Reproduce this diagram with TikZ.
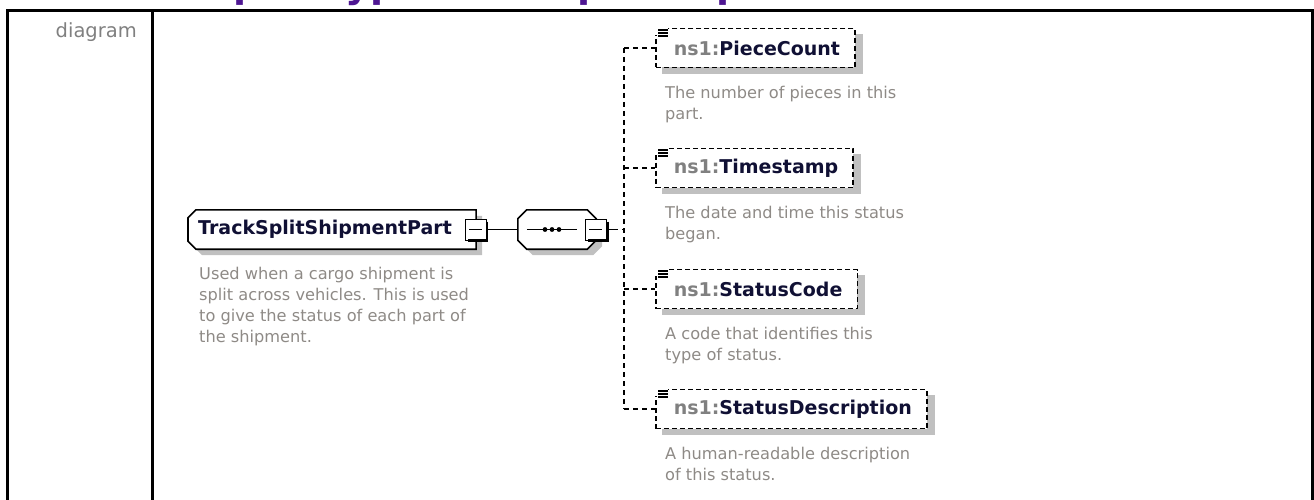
\documentclass[tikz,border=0pt]{standalone}
\usepackage{fontspec}
\setmainfont{DejaVu Sans}
\usetikzlibrary{calc,backgrounds}
\definecolor{headpurple}{RGB}{78,22,146}
\definecolor{namenavy}{RGB}{16,16,52}
\definecolor{nsgray}{RGB}{128,128,128}
\definecolor{docgray}{RGB}{142,138,134}
\definecolor{shadegray}{RGB}{192,192,192}
\tikzset{
  tablerule/.style = {line width=3pt},
  headline/.style  = {font=\fontsize{38}{40}\selectfont\bfseries, text=headpurple, inner sep=0pt},
  rowlabel/.style  = {font=\fontsize{19.5}{22}\selectfont, text=nsgray, inner sep=0pt},
  elemname/.style  = {font=\fontsize{19}{23}\selectfont\bfseries, text=namenavy,
                      inner xsep=0pt, minimum height=39pt},
  elemchild/.style = {draw, line width=1.6pt, dash pattern=on 5pt off 3pt, fill=white,
                      font=\fontsize{19}{23}\selectfont\bfseries, text=namenavy,
                      inner xsep=0pt, minimum height=39pt},
  seqbox/.style    = {minimum width=78pt, minimum height=39pt, inner sep=0pt},
  minusbox/.style  = {draw, fill=white, line width=1pt, minimum size=21pt, inner sep=0pt},
  docnote/.style   = {font=\fontsize{16.2}{21}\selectfont, text=docgray, align=left, inner sep=0pt},
  wire/.style      = {line width=1.4pt},
  branch/.style    = {line width=1.5pt, dash pattern=on 5pt off 4pt},
  outline/.style   = {line width=1.6pt, line join=miter},
  shade/.style     = {fill=shadegray, transform canvas={shift={(6pt,-6pt)}}},
  leftcut/.style   = {insert path={([xshift=8pt]#1.north west) -- (#1.north east) -- (#1.south east)
                      -- ([xshift=8pt]#1.south west) -- ([yshift=8pt]#1.south west)
                      -- ([yshift=-8pt]#1.north west) -- cycle}},
  octcut/.style    = {insert path={([xshift=9pt]#1.north west) -- ([xshift=-9pt]#1.north east)
                      -- ([yshift=-9pt]#1.north east) -- ([yshift=9pt]#1.south east)
                      -- ([xshift=-9pt]#1.south east) -- ([xshift=9pt]#1.south west)
                      -- ([yshift=9pt]#1.south west) -- ([yshift=-9pt]#1.north west) -- cycle}},
}
\begin{document}
\begin{tikzpicture}[x=1pt,y=-1pt]
  \useasboundingbox (0,0) rectangle (1314,500);
  \begin{scope}
    \clip (0,0) rectangle (1314,9);
    \node[headline, anchor=base west] (head) at (145,-2) {complexType TrackSplitShipmentPart};
  \end{scope}
  \draw[tablerule] (7.5,502) -- (7.5,10.5) -- (1312.5,10.5) -- (1312.5,502);
  \draw[tablerule] (152,10.5) -- (152,502);
  \node[rowlabel, anchor=base east] (lbl) at (137,38) {diagram};

  \node[elemname, anchor=west] (el) at (188,229.5) {\hspace*{10pt}TrackSplitShipmentPart\hspace*{24pt}};
  \begin{scope}[on background layer]
    \fill[shade, leftcut=el];
    \fill[white, leftcut=el];
  \end{scope}
  \draw[outline, leftcut=el];
  \node[docnote, anchor=north west] (el-doc) at (199,267)
     {Used when a cargo shipment is\\split across vehicles. This is used\\to give the status of each part of\\the shipment.};

  \node[seqbox] (seq) at (557,229.5) {};
  \begin{scope}[on background layer]
    \fill[shade, octcut=seq];
    \fill[white, octcut=seq];
  \end{scope}
  \draw[outline, octcut=seq];
  \draw[wire] ([xshift=9pt]seq.west) -- ([xshift=-19pt]seq.east);
  \foreach \dx in {-12,-5,2}
     {\fill ([xshift=\dx pt]seq.center) circle (2.4pt);}

  \node[minusbox] (elminus) at (el.east) {};
  \node[minusbox] (seqminus) at (seq.east) {};
  \foreach \m in {elminus,seqminus}
     {\draw[line width=2.6pt] ([yshift=-3pt]\m.north east) -- (\m.south east) -- ([xshift=3pt]\m.south west);
      \draw[line width=1.4pt] ([xshift=4pt]\m.west) -- ([xshift=-5pt]\m.east);}
  \draw[wire] (elminus) -- (seq);

  \coordinate (trunk) at (624,229.5);
  \coordinate (tjoin) at ([xshift=6pt]seqminus.east);
  \draw[wire] (seqminus) -- (tjoin);
  \draw[branch] (tjoin) -- (tjoin -| trunk);

  \foreach \n/\nm/\y/\txt in {pc/PieceCount/48/{The number of pieces in this\\part.},
                               ts/Timestamp/168/{The date and time this status\\began.},
                               sc/StatusCode/289/{A code that identifies this\\type of status.},
                               sd/StatusDescription/409/{A human-readable description\\of this status.}}
  {
    \node[elemchild, anchor=west] (\n) at (655,\y)
       {\hspace*{18pt}\textcolor{nsgray}{ns1:}\nm\hspace*{15pt}};
    \begin{scope}[on background layer]
      \fill[shadegray] ([shift={(7pt,-6pt)}]\n.south west) rectangle ([shift={(7pt,-6pt)}]\n.north east);
    \end{scope}
    \fill[white] ([shift={(-1.5pt,1.5pt)}]\n.north west) rectangle ([shift={(13pt,-7pt)}]\n.north west);
    \foreach \k in {0,1,2}
       {\draw[line width=1.5pt] ([shift={(3pt,-2.5pt)}]\n.north west) ++(0,\k*3) -- ++(10,0);}
    \draw[branch] (\n.west -| trunk) -- (\n.west);
    \node[docnote, anchor=north west] (\n-doc) at ([shift={(10pt,-18pt)}]\n.south west) {\txt};
  }
  \draw[branch] (pc.west -| trunk) -- (sd.west -| trunk);
\end{tikzpicture}
\end{document}
